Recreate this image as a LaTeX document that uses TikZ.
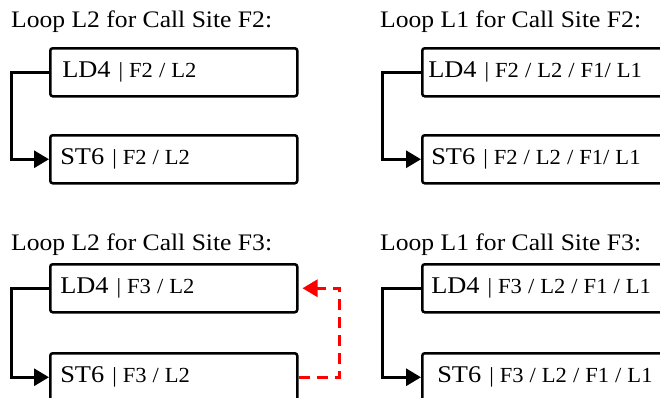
\documentclass[tikz,border=0pt]{standalone}
\usepackage{fontspec}
\setmainfont{Liberation Serif}
\newfontfamily\titlefont{Liberation Serif}[FakeStretch=1.08]
\newfontfamily\boxfont{Liberation Serif}[FakeStretch=1.1]
\newfontfamily\tagfont{Liberation Serif}[FakeStretch=1.05]
\usetikzlibrary{positioning}
\usetikzlibrary{arrows.meta}

\tikzset{
	looptitle/.style={anchor=base west, inner sep=0pt, font=\titlefont\fontsize{23.7}{28}\selectfont},
	instbox/.style={draw, line width=2.5pt, rounded corners=2.5pt, anchor=north west,
		text width=227pt, inner xsep=10pt, minimum height=48pt, align=left,
		font=\boxfont\fontsize{24}{28}\selectfont},
	widebox/.style={instbox, text width=300pt},
	loopedge/.style={line width=3pt, -{Triangle[length=15pt,width=17pt]}},
	backedge/.style={red, line width=3pt, dash pattern=on 11pt off 7pt,
		-{Triangle[length=15pt,width=17pt]}},
}
\newcommand{\instlabel}[2]{#1 {\tagfont\fontsize{21.5}{24}\selectfont\spaceskip=0.28em\relax| #2}}

\begin{document}
\begin{tikzpicture}[x=1pt, y=1pt]
	
	% ------------------------------------------------
	% Page frame (the boxes run past its edges)
	\useasboundingbox (0,0) rectangle (660,-397);
	\clip (0,0) rectangle (660,-397);
	
	% ------------------------------------------------
	% Titles
	\node[looptitle] (TitleF2L2) at (11,-27)  {Loop L2 for Call Site F2:};
	\node[looptitle] (TitleF2L1) at (380,-27) {Loop L1 for Call Site F2:};
	\node[looptitle] (TitleF3L2) at (11,-250) {Loop L2 for Call Site F3:};
	\node[looptitle] (TitleF3L1) at (380,-250) {Loop L1 for Call Site F3:};
	
	% ----------------
	% Instructions
	\node[instbox, inner xsep=12pt, text width=223pt] (LDF2L2) at (49,-47) {\instlabel{LD4}{F2 / L2}};
	\node[instbox] (STF2L2) at (49,-134)  {\instlabel{ST6}{F2 / L2}};
	\node[widebox, inner xsep=6pt] (LDF2L1) at (421,-47)  {\instlabel{LD4}{F2 / L2 / F1/ L1}};
	\node[widebox, inner xsep=9pt] (STF2L1) at (421,-134) {\instlabel{ST6}{F2 / L2 / F1/ L1}};
	
	\node[instbox] (LDF3L2) at (49,-263)  {\instlabel{LD4}{F3 / L2}};
	\node[instbox] (STF3L2) at (49,-352)  {\instlabel{ST6}{F3 / L2}};
	\node[widebox, inner xsep=9pt] (LDF3L1) at (421,-263) {\instlabel{LD4}{F3 / L2 / F1 / L1}};
	\node[widebox, inner xsep=15pt] (STF3L1) at (421,-352) {\instlabel{ST6}{F3 / L2 / F1 / L1}};
	
	%%%%%%%%%%%%%%%%%%%%%%%%%%%%%%%%%%%%%%%%%
	%Loop edges
	\draw[loopedge] (LDF2L2.west) -- ++(-38,0) |- (STF2L2.west);
	\draw[loopedge] (LDF2L1.west) -- ++(-39,0) |- (STF2L1.west);
	\draw[loopedge] (LDF3L2.west) -- ++(-38,0) |- (STF3L2.west);
	\draw[loopedge] (LDF3L1.west) -- ++(-39,0) |- (STF3L1.west);
	
	% back edge
	\draw[backedge] (STF3L2.east) -- ++(41,0) |- ([xshift=4pt]LDF3L2.east);
	
\end{tikzpicture}
\end{document}
